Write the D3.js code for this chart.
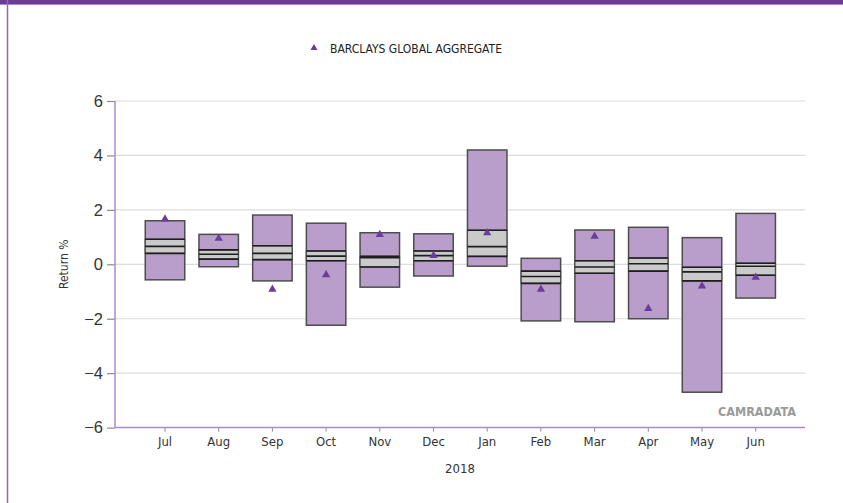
<!DOCTYPE html>
<html>
<head>
<meta charset="utf-8">
<script src="https://cdn.jsdelivr.net/npm/d3@7"></script>
<style>
  body { margin: 0; background: #fff; }
  svg { display: block; }
  .cond { font-family: "DejaVu Sans Condensed", "Liberation Sans Narrow", "Roboto", sans-serif; font-stretch: condensed; }
</style>
</head>
<body>
<svg id="chart" width="843" height="503"></svg>
<script>
//monthly return distribution (5th pct, quartiles, median, 95th pct) + benchmark
var months = ["Jul", "Aug", "Sep", "Oct", "Nov", "Dec", "Jan", "Feb", "Mar", "Apr", "May", "Jun"];
var top95 = [1.60, 1.10, 1.81, 1.51, 1.16, 1.12, 4.20, 0.22, 1.26, 1.36, 0.98, 1.87];
var upperQ = [0.92, 0.53, 0.68, 0.49, 0.29, 0.49, 1.25, -0.25, 0.13, 0.23, -0.11, 0.04];
var median = [0.66, 0.37, 0.40, 0.30, 0.24, 0.32, 0.65, -0.45, -0.10, 0.02, -0.28, -0.07];
var lowerQ = [0.40, 0.19, 0.17, 0.13, -0.10, 0.13, 0.29, -0.70, -0.33, -0.25, -0.61, -0.40];
var bottom5 = [-0.57, -0.09, -0.61, -2.24, -0.84, -0.43, -0.07, -2.08, -2.11, -2.00, -4.70, -1.24];
var benchmark = [1.66, 0.95, -0.92, -0.39, 1.09, 0.32, 1.16, -0.92, 1.03, -1.63, -0.80, -0.48];
var yTicks = [-6, -4, -2, 0, 2, 4, 6];
var legendLabel = "BARCLAYS GLOBAL AGGREGATE";
var xTitle = "2018";
var yTitle = "Return %";

var svg = d3.select("#chart");

//frame: purple top bar and left rule
svg.append("rect").attr("x", 0).attr("y", 0).attr("width", 843).attr("height", 4).attr("fill", "#6e3b97");
svg.append("rect").attr("x", 0).attr("y", 4).attr("width", 843).attr("height", 1).attr("fill", "#a58cc4");
svg.append("line").attr("x1", 7.5).attr("x2", 7.5).attr("y1", 0).attr("y2", 503)
    .attr("stroke", "#8e69b5").attr("stroke-width", 1.5);

var x = d3.scaleBand().domain(months).range([138.15, 782.55]).paddingInner(0.265).paddingOuter(0.1325);
var y = d3.scaleLinear().domain([-6, 6]).range([427.6, 101]);
var left = 115, right = 805;

//gridlines
svg.append("g").selectAll("line")
    .data(yTicks.filter(function (d) { return d > -6; }))
    .enter().append("line")
    .attr("x1", left).attr("x2", right)
    .attr("y1", function (d) { return y(d); }).attr("y2", function (d) { return y(d); })
    .attr("stroke", "#dcdcdc").attr("stroke-width", 1.2);

//y axis
var yAxis = svg.append("g").attr("transform", "translate(" + left + ",0)")
    .call(d3.axisLeft(y).tickValues(yTicks).tickSize(8).tickPadding(4).tickFormat(d3.format("d")));
yAxis.select(".domain").remove();
yAxis.selectAll(".tick line").attr("stroke", "#8a8a8a").attr("stroke-width", 1.2);
yAxis.selectAll(".tick text").attr("fill", "#333").style("font-family", "Liberation Sans, Arial, sans-serif").style("font-size", "16.5px");
svg.append("line").attr("x1", left).attr("x2", left).attr("y1", y(6)).attr("y2", y(-6))
    .attr("stroke", "#a98bd0").attr("stroke-width", 1.5);

//x axis
var xAxis = svg.append("g").attr("transform", "translate(0," + y(-6) + ")")
    .call(d3.axisBottom(x).tickSize(4).tickPadding(5));
xAxis.select(".domain").remove();
xAxis.selectAll(".tick line").attr("stroke", "#8a8a8a");
xAxis.selectAll(".tick text").attr("class", "cond").attr("fill", "#333").style("font-size", "13px");
svg.append("line").attr("x1", left).attr("x2", right).attr("y1", y(-6)).attr("y2", y(-6))
    .attr("stroke", "#a98bd0").attr("stroke-width", 1.5);

//titles
svg.append("text").attr("class", "cond").attr("x", 460).attr("y", 473).attr("text-anchor", "middle")
    .attr("fill", "#333").style("font-size", "13px").text(xTitle);
svg.append("text").attr("class", "cond").attr("transform", "translate(68," + y(0) + ") rotate(-90)")
    .attr("text-anchor", "middle").attr("fill", "#333").style("font-size", "12px").text(yTitle);

//boxes
var idx = d3.range(months.length);
var boxes = svg.append("g").selectAll("g").data(idx).enter().append("g");
boxes.append("rect")
    .attr("x", function (i) { return x(months[i]); })
    .attr("width", x.bandwidth())
    .attr("y", function (i) { return y(top95[i]); })
    .attr("height", function (i) { return y(bottom5[i]) - y(top95[i]); })
    .attr("fill", "#b99dca").attr("stroke", "#4d4d4d").attr("stroke-width", 1.5);
boxes.append("rect")
    .attr("x", function (i) { return x(months[i]); })
    .attr("width", x.bandwidth())
    .attr("y", function (i) { return y(upperQ[i]); })
    .attr("height", function (i) { return y(lowerQ[i]) - y(upperQ[i]); })
    .attr("fill", "#c9cac9").attr("stroke", "#4d4d4d").attr("stroke-width", 1.2);
[upperQ, median, lowerQ].forEach(function (arr) {
    boxes.append("line")
        .attr("x1", function (i) { return x(months[i]); })
        .attr("x2", function (i) { return x(months[i]) + x.bandwidth(); })
        .attr("y1", function (i) { return y(arr[i]); })
        .attr("y2", function (i) { return y(arr[i]); })
        .attr("stroke", "#1e1e1e").attr("stroke-width", 1.6);
});

//benchmark markers
var tri = d3.symbol().type(d3.symbolTriangle).size(30);
svg.append("g").selectAll("path").data(idx).enter().append("path")
    .attr("d", tri)
    .attr("transform", function (i) { return "translate(" + (x(months[i]) + x.bandwidth() / 2) + "," + y(benchmark[i]) + ")"; })
    .attr("fill", "#6a3d9a");

//legend
svg.append("path").attr("d", d3.symbol().type(d3.symbolTriangle).size(22))
    .attr("transform", "translate(314,48)").attr("fill", "#6a3d9a");
svg.append("text").attr("class", "cond").attr("x", 330).attr("y", 52.5)
    .attr("fill", "#222").style("font-size", "12px").text(legendLabel);

//watermark
svg.append("text").attr("x", 796).attr("y", 416).attr("text-anchor", "end")
    .attr("class", "cond").attr("fill", "#9a9a9a").style("font-size", "12.5px").style("font-weight", "bold")
    .text("CAMRADATA");
</script>
</body>
</html>
